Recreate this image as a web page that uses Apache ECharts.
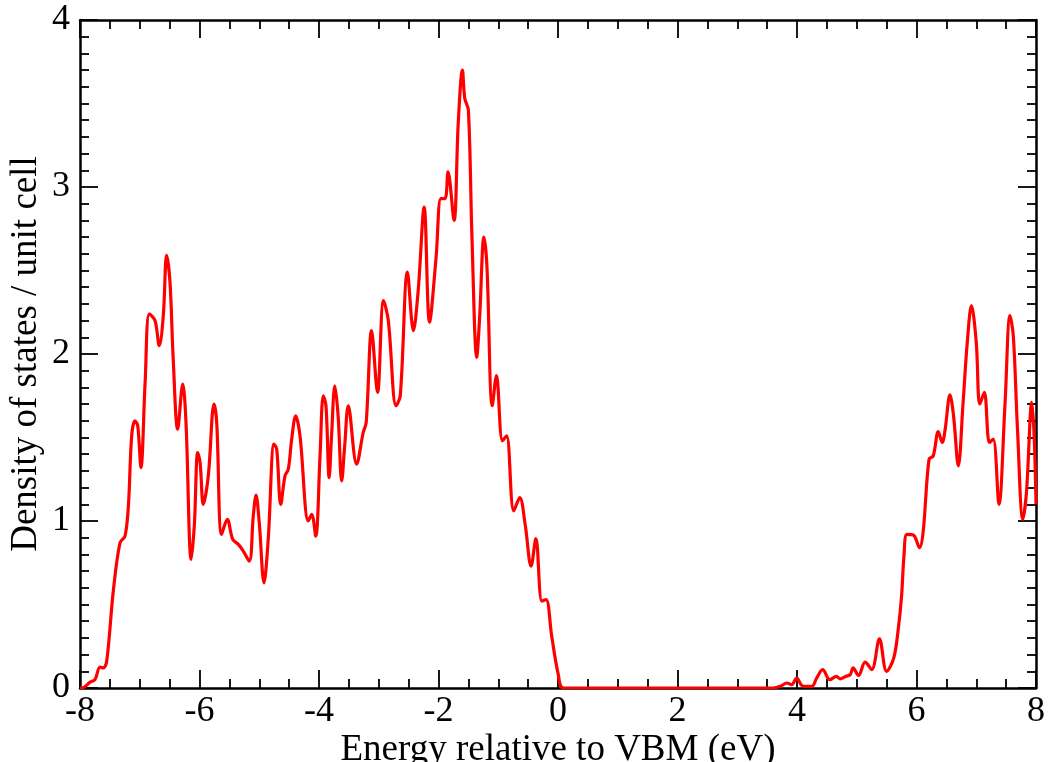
<!DOCTYPE html>
<html>
<head>
<meta charset="utf-8">
<script src="https://cdn.jsdelivr.net/npm/echarts@6/dist/echarts.min.js"></script>
<style>
html,body{margin:0;padding:0;background:#fff;}
#chart{width:1050px;height:762px;}
</style>
</head>
<body>
<div id="chart"></div>
<script>
// Energy relative to VBM (eV)
const energy = [
  -8.00, -7.97, -7.83, -7.75, -7.665, -7.61, -7.553, -7.44, -7.33, -7.247, -7.19, -7.135, -7.08, -7.034,
  -6.98, -6.91, -6.84, -6.745, -6.673, -6.606, -6.55, -6.494, -6.44, -6.365, -6.28, -6.226,
  -6.14, -6.087, -6.03, -5.99, -5.936, -5.853, -5.757, -5.712, -5.63, -5.535, -5.444, -5.35,
  -5.267, -5.167, -5.10, -5.054, -5.00, -4.92, -4.85, -4.753, -4.708, -4.64, -4.569, -4.514,
  -4.457, -4.39, -4.318, -4.18, -4.122, -4.055, -3.983, -3.928, -3.883, -3.83, -3.79, -3.735,
  -3.68, -3.62, -3.57, -3.51, -3.37, -3.26, -3.21, -3.12, -3.02, -2.92, -2.84, -2.71, -2.64,
  -2.52, -2.42, -2.34, -2.24, -2.15, -2.04, -1.96, -1.89, -1.84, -1.74, -1.67, -1.60, -1.56,
  -1.50, -1.44, -1.36, -1.31, -1.24, -1.19, -1.10, -1.03, -0.93, -0.86, -0.74, -0.64, -0.55,
  -0.45, -0.37, -0.27, -0.20, -0.105, 0.005, 0.09, 1.0, 2.0, 3.0, 3.60, 3.72, 3.83, 3.91,
  3.995, 4.08, 4.16, 4.25, 4.33, 4.43, 4.55, 4.66, 4.72, 4.82, 4.89, 4.94, 5.03, 5.14, 5.25,
  5.38, 5.50, 5.62, 5.70, 5.75, 5.79, 5.84, 5.95, 6.05, 6.11, 6.21, 6.28, 6.365, 6.43, 6.48,
  6.56, 6.62, 6.70, 6.78, 6.85, 6.92, 7.00, 7.06, 7.135, 7.22, 7.285, 7.38, 7.48, 7.565, 7.62,
  7.69, 7.78, 7.84, 7.93, 7.97, 8.00
];
// Density of states / unit cell
const dos = [
  0.00, 0.00, 0.035, 0.05, 0.125, 0.12, 0.16, 0.59, 0.87, 0.91, 1.09, 1.51, 1.60, 1.57,
  1.32, 1.83, 2.24, 2.20, 2.05, 2.23, 2.59, 2.43, 1.97, 1.55, 1.82, 1.59,
  0.77, 0.97, 1.41, 1.35, 1.10, 1.27, 1.70, 1.59, 0.92, 1.01, 0.89, 0.86,
  0.82, 0.76, 1.03, 1.155, 0.99, 0.63, 0.89, 1.46, 1.43, 1.10, 1.27, 1.31,
  1.49, 1.63, 1.51, 1.00, 1.04, 0.91, 1.39, 1.75, 1.69, 1.26, 1.51, 1.81,
  1.63, 1.24, 1.45, 1.69, 1.34, 1.53, 1.59, 2.14, 1.77, 2.32, 2.20, 1.69, 1.75,
  2.49, 2.14, 2.38, 2.88, 2.19, 2.58, 2.93, 2.93, 3.09, 2.80, 3.38, 3.70, 3.53,
  3.46, 2.70, 1.98, 2.23, 2.70, 2.53, 1.69, 1.87, 1.48, 1.51, 1.06, 1.14, 0.98,
  0.73, 0.895, 0.52, 0.53, 0.31, 0.08, 0.00, 0.00, 0.00, 0.00, 0.00, 0.01, 0.03, 0.02,
  0.06, 0.015, 0.01, 0.01, 0.06, 0.11, 0.05, 0.07, 0.055, 0.07, 0.08, 0.12, 0.075, 0.155, 0.11,
  0.295, 0.10, 0.18, 0.37, 0.55, 0.79, 0.92, 0.915, 0.84, 0.93, 1.37, 1.39, 1.535, 1.47, 1.55,
  1.755, 1.63, 1.33, 1.71, 2.07, 2.29, 2.07, 1.70, 1.77, 1.47, 1.49, 1.10, 1.69, 2.23, 2.11,
  1.55, 1.01, 1.17, 1.71, 1.50, 1.10
];
const xTicks = { min: -8, max: 8, interval: 2 };
const yTicks = { min: 0, max: 4, interval: 1 };

const FONT = 'Liberation Serif';
const chart = echarts.init(document.getElementById('chart'), null, { renderer: 'canvas' });
const data = energy.map((e, i) => [e, dos[i]]);

function xAxisCfg(pos, labels) {
  return {
    type: 'value', position: pos, min: xTicks.min, max: xTicks.max, interval: xTicks.interval,
    axisLine: { show: true, onZero: false, lineStyle: { color: '#000', width: 2.5 } },
    axisTick: { show: true, inside: true, length: 18, lineStyle: { color: '#000', width: 1.8 } },
    minorTick: { show: true, splitNumber: 4, length: 9, lineStyle: { color: '#000', width: 1.8 } },
    splitLine: { show: false }, minorSplitLine: { show: false },
    axisLabel: { show: labels, margin: 6, color: '#000', fontFamily: FONT, fontSize: 36 },
    name: labels ? 'Energy relative to VBM (eV)' : '',
    nameLocation: 'middle', nameGap: 44, nameMoveOverlap: false,
    nameTextStyle: { color: '#000', fontFamily: FONT, fontSize: 37 }
  };
}
function yAxisCfg(pos, labels) {
  return {
    type: 'value', position: pos, min: yTicks.min, max: yTicks.max, interval: yTicks.interval,
    axisLine: { show: true, onZero: false, lineStyle: { color: '#000', width: 2.5 } },
    axisTick: { show: true, inside: true, length: 18, lineStyle: { color: '#000', width: 1.8 } },
    minorTick: { show: true, splitNumber: 10, length: 9, lineStyle: { color: '#000', width: 1.8 } },
    splitLine: { show: false }, minorSplitLine: { show: false },
    axisLabel: { show: labels, margin: 10, color: '#000', fontFamily: FONT, fontSize: 36 },
    name: labels ? 'Density of states / unit cell' : '',
    nameLocation: 'middle', nameGap: 35, nameMoveOverlap: false,
    nameTextStyle: { color: '#000', fontFamily: FONT, fontSize: 37 }
  };
}

chart.setOption({
  animation: false,
  backgroundColor: '#fff',
  grid: { left: 80, right: 14, top: 20, bottom: 74, containLabel: false, outerBoundsMode: 'none' },
  xAxis: [xAxisCfg('bottom', true), xAxisCfg('top', false)],
  yAxis: [yAxisCfg('left', true), yAxisCfg('right', false)],
  series: [{
    type: 'line', xAxisIndex: 0, yAxisIndex: 0, data: data,
    showSymbol: false, smooth: 0.35, clip: true,
    lineStyle: { color: '#ff0000', width: 3.2 }, z: 5
  }]
});
</script>
</body>
</html>
